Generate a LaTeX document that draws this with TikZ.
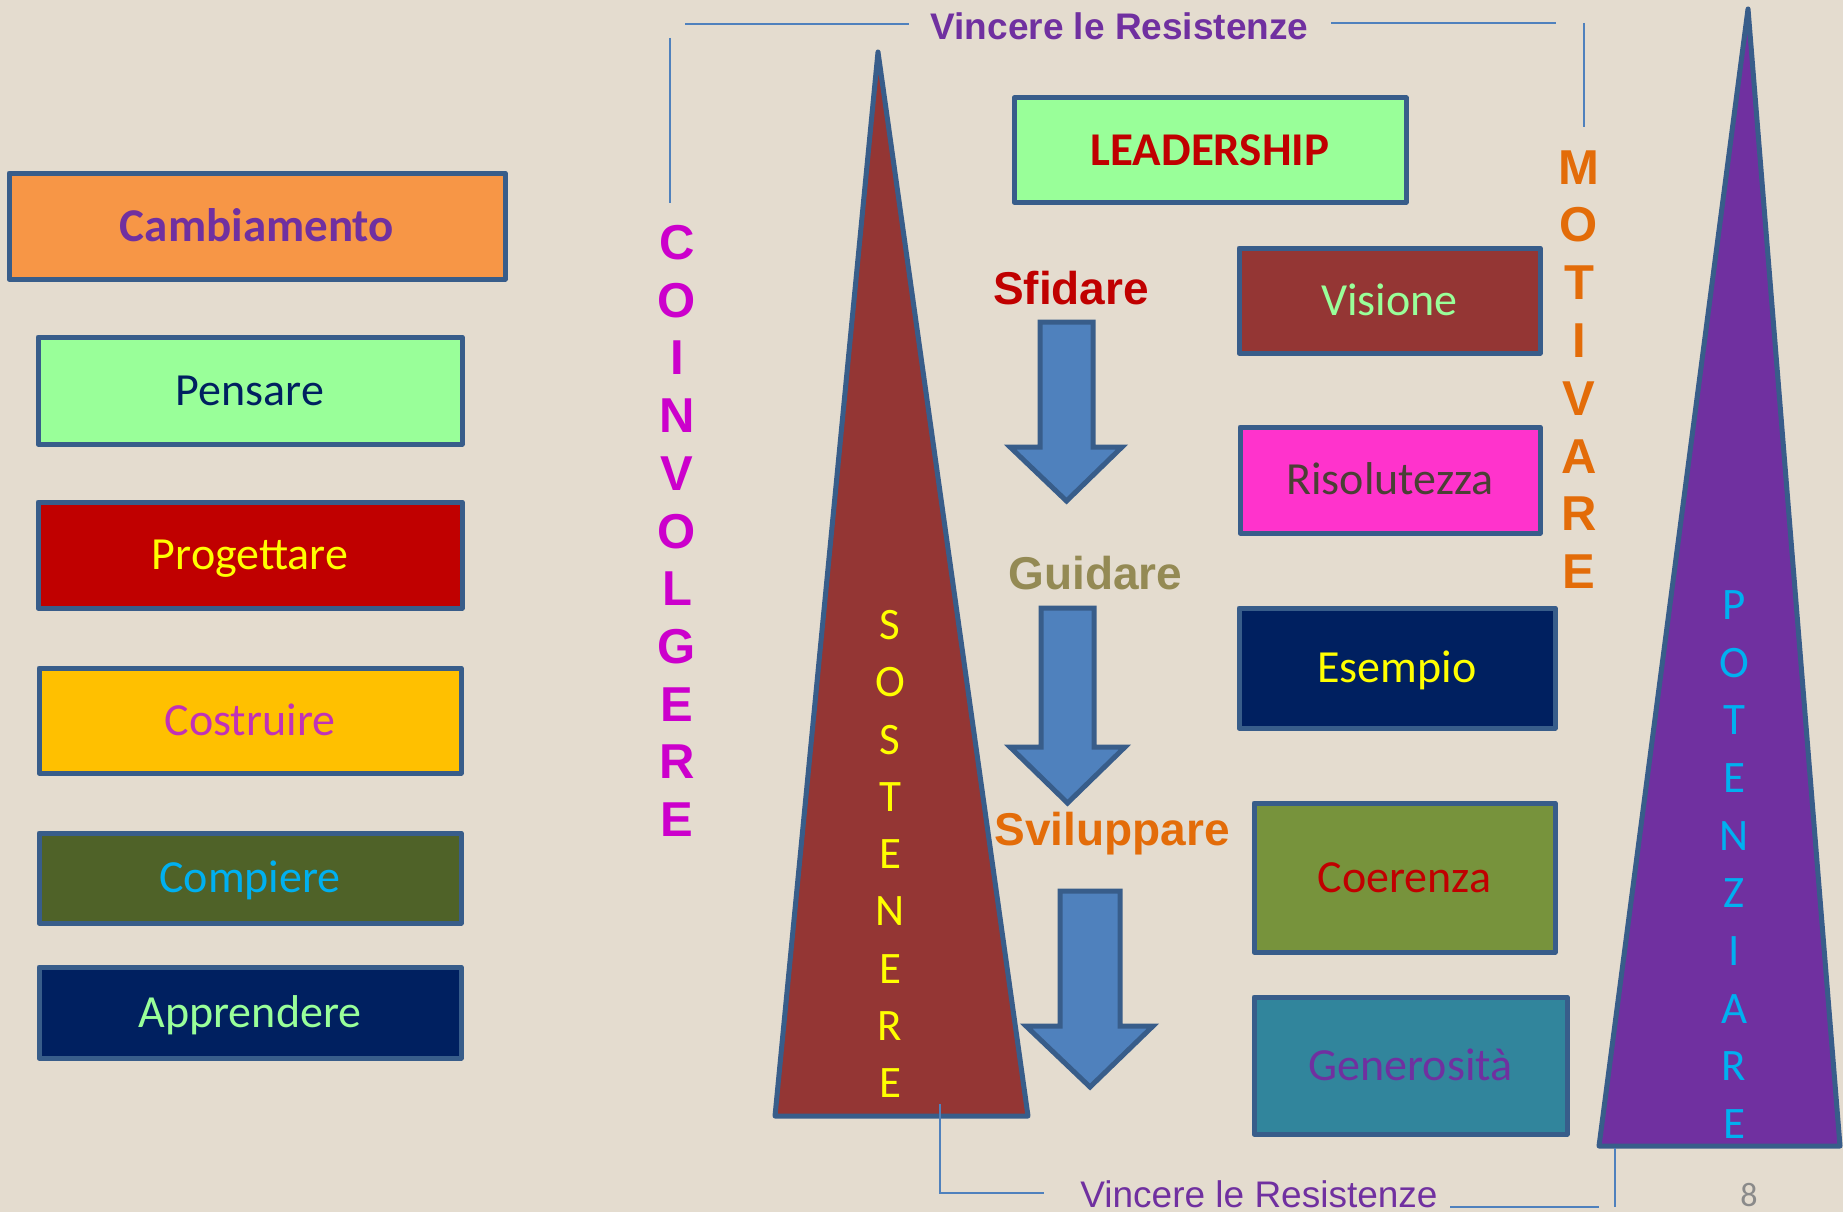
\documentclass[tikz,border=0pt]{standalone}
\usepackage{fontspec}
\newfontfamily\calibri{Carlito}
\newfontfamily\arial{Liberation Sans}

\definecolor{paper}{HTML}{E4DCCF}
\definecolor{edgeblue}{HTML}{385D8A}
\definecolor{linkblue}{HTML}{4F81BD}
\definecolor{arrowblue}{HTML}{4F81BD}
\definecolor{lightgreen}{HTML}{99FF99}
\definecolor{orangebox}{HTML}{F79646}
\definecolor{darkred}{HTML}{C00000}
\definecolor{gold}{HTML}{FFC000}
\definecolor{olivebox}{HTML}{4F6228}
\definecolor{navy}{HTML}{002060}
\definecolor{brick}{HTML}{943634}
\definecolor{pinkbox}{HTML}{FF33CC}
\definecolor{grass}{HTML}{77933C}
\definecolor{teal}{HTML}{31859C}
\definecolor{violet}{HTML}{7030A0}
\definecolor{magenta}{HTML}{CC00CC}
\definecolor{orchid}{HTML}{C032B8}
\definecolor{skyblue}{HTML}{00B0F0}
\definecolor{pureyellow}{HTML}{FFFF00}
\definecolor{ochre}{HTML}{948A54}
\definecolor{pumpkin}{HTML}{E36C09}
\definecolor{umber}{HTML}{4A4035}
\definecolor{pagegray}{HTML}{8A8A8A}

\begin{document}
\begin{tikzpicture}[x=1pt,y=-1pt,
  outline/.style={draw=edgeblue, line width=5pt, line join=round},
  box/.style={outline, rectangle, inner sep=0pt,
    font=\calibri\fontsize{46}{46}\selectfont, text height=29.6pt, text depth=0pt},
  boldbox/.style={box, font=\calibri\bfseries\fontsize{47}{47}\selectfont, text height=30.3pt},
  verb/.style={inner sep=0pt, font=\arial\bfseries\fontsize{46}{46}\selectfont,
    text height=33pt, text depth=0pt},
  stackbold/.style={inner sep=0pt, font=\arial\bfseries\fontsize{49}{49}\selectfont,
    text height=35pt, text depth=0pt},
  stackthin/.style={inner sep=0pt, font=\calibri\fontsize{45}{45}\selectfont,
    text height=29pt, text depth=0pt},
  bracket/.style={draw=linkblue, line width=2.5pt},
  blockarrow/.style={outline, fill=arrowblue, line join=miter},
]
\useasboundingbox (0,0) rectangle (1843,1212);
\fill[paper] (0,0) rectangle (1843,1212);

% left column of activities
\node[boldbox, fill=orangebox, text=violet, minimum width=496pt, minimum height=106pt]
  (camb) at (257,226) {Cambiamento};
\node[box, fill=lightgreen, text=navy, minimum width=424pt, minimum height=107pt]
  (pens) at (250,390.5) {Pensare};
\node[box, fill=darkred, text=pureyellow, minimum width=424pt, minimum height=106pt]
  (prog) at (250,555) {Progettare};
\node[box, fill=gold, text=orchid, minimum width=422pt, minimum height=105pt]
  (costr) at (250,720.5) {Costruire};
\node[box, fill=olivebox, text=skyblue, minimum width=422pt, minimum height=90pt]
  (comp) at (250,878) {Compiere};
\node[box, fill=navy, text=lightgreen, minimum width=422pt, minimum height=91pt]
  (appr) at (250,1012.5) {Apprendere};

% right column of qualities
\node[boldbox, fill=lightgreen, text=darkred, minimum width=392pt, minimum height=104pt]
  (lead) at (1210,150) {LEADERSHIP};
\node[box, fill=brick, text=lightgreen, minimum width=301pt, minimum height=105pt]
  (vis) at (1389.5,300.5) {Visione};
\node[box, fill=pinkbox, text=umber, minimum width=300pt, minimum height=106pt]
  (riso) at (1390,480) {Risolutezza};
\node[box, fill=navy, text=pureyellow, minimum width=316pt, minimum height=120pt]
  (esem) at (1397,668) {Esempio};
\node[box, fill=grass, text=darkred, minimum width=301pt, minimum height=149pt]
  (coer) at (1404.5,877.5) {Coerenza};
\node[box, fill=teal, text=violet, minimum width=313pt, minimum height=137pt]
  (gene) at (1410.5,1065.5) {Generosità};

% tall wedges
\draw[outline, fill=brick] (878,52) -- (1028,1116) -- (775,1116) -- cycle;
\draw[outline, fill=violet] (1748,9) -- (1840,1146) -- (1599,1146) -- cycle;

% vertical words
\foreach \ch [count=\i from 0] in {C,O,I,N,V,O,L,G,E,R,E}
  \node[stackbold, text=magenta] (coinv\i) at (677,242+57.7*\i) {\ch};
\foreach \ch [count=\i from 0] in {M,O,T,I,V,A,R,E}
  \node[stackbold, text=pumpkin] (motiv\i) at (1579,166.5+57.8*\i) {\ch};
\foreach \ch [count=\i from 0] in {S,O,S,T,E,N,E,R,E}
  \node[stackthin, text=pureyellow] (sost\i) at (890,625+57.25*\i) {\ch};
\foreach \ch [count=\i from 0] in {P,O,T,E,N,Z,I,A,R,E}
  \node[stackthin, text=skyblue] (poten\i) at (1734,604.8+57.7*\i) {\ch};

% leadership verbs and block arrows
\node[verb, text=darkred] (sfid) at (1071,287.5) {Sfidare};
\node[verb, text=ochre] (guid) at (1095.5,572.5) {Guidare};
\node[verb, text=pumpkin] (svil) at (1112,828.5) {Sviluppare};

\draw[blockarrow] (1040,322) -- (1093,322) -- (1093,447) -- (1122,447)
  -- (1066.5,501) -- (1010,447) -- (1040,447) -- cycle;
\draw[blockarrow] (1041,608) -- (1094,608) -- (1094,747) -- (1125,747)
  -- (1067.5,803) -- (1010,747) -- (1041,747) -- cycle;
\draw[blockarrow] (1060,891) -- (1120,891) -- (1120,1026) -- (1153,1026)
  -- (1090,1087) -- (1026,1026) -- (1060,1026) -- cycle;

% titles
\node[inner sep=0pt, font=\arial\bfseries\fontsize{37}{37}\selectfont, text=violet,
  text height=26.5pt, text depth=0pt] (toptitle) at (1119.5,26.5) {Vincere le Resistenze};
\node[inner sep=0pt, font=\arial\fontsize{37}{37}\selectfont, text=violet,
  text height=26.5pt, text depth=0pt] (bottitle) at (1259,1194) {Vincere le Resistenze};
\node[inner sep=0pt, font=\calibri\fontsize{34}{34}\selectfont, text=pagegray,
  anchor=base] (pagenum) at (1749,1206) {8};

% bracket lines around the wedges
\coordinate (tl1) at (685,24);   \coordinate (tl2) at (909,24);
\coordinate (tl3) at (670,38);   \coordinate (tl4) at (670,203);
\coordinate (tr1) at (1331,23);  \coordinate (tr2) at (1556,23);
\coordinate (tr3) at (1584,23);  \coordinate (tr4) at (1584,127);
\coordinate (bl1) at (940,1104); \coordinate (bl2) at (940,1193);
\coordinate (bl3) at (1044,1193);
\coordinate (br1) at (1450,1207); \coordinate (br2) at (1599,1207);
\coordinate (br3) at (1615,1148); \coordinate (br4) at (1615,1207);
\draw[bracket] (tl1) -- (tl2);
\draw[bracket] (tl3) -- (tl4);
\draw[bracket] (tr1) -- (tr2);
\draw[bracket] (tr3) -- (tr4);
\draw[bracket] (bl1) -- (bl2) -- (bl3);
\draw[bracket] (br1) -- (br2);
\draw[bracket] (br3) -- (br4);
\end{tikzpicture}
\end{document}
